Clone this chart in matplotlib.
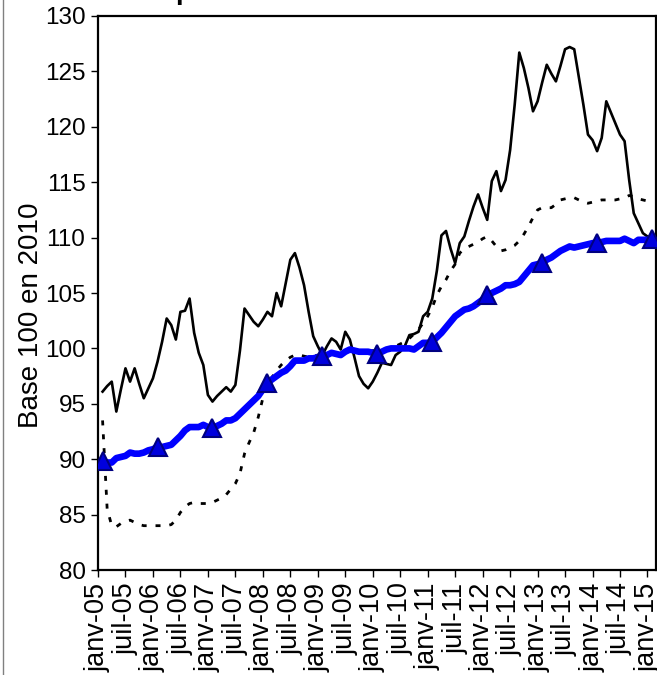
import matplotlib
matplotlib.use("Agg")
import matplotlib.pyplot as plt
from matplotlib.lines import Line2D
import numpy as np

plt.rcParams['font.family'] = ['Liberation Sans', 'DejaVu Sans']

# libellés de l'axe des abscisses (un tous les 6 mois)
tick_labels = []
for yy in range(5, 16):
    tick_labels.append("janv-%02d" % yy)
    if yy < 15:
        tick_labels.append("juil-%02d" % yy)

# série noire (trait plein), mensuelle de janv-05 à janv-15
serie_noire = [
    96.1, 96.6, 97.0, 94.3, 96.3, 98.2, 97.0, 98.2, 96.8, 95.5, 96.4, 97.3,
    98.8, 100.6, 102.7, 102.1, 100.8, 103.3, 103.4, 104.5, 101.4, 99.6, 98.5, 95.8,
    95.2, 95.7, 96.1, 96.5, 96.1, 96.7, 99.8, 103.6, 103.0, 102.4, 102.0, 102.6,
    103.3, 102.9, 105.0, 103.8, 105.9, 108.0, 108.6, 107.3, 105.7, 103.3, 101.1, 100.2,
    99.4, 100.2, 100.9, 100.6, 99.9, 101.5, 100.8, 99.2, 97.5, 96.8, 96.4, 97.0,
    97.8, 98.7, 98.6, 98.5, 99.4, 99.7, 100.2, 101.2, 101.3, 101.5, 102.9, 103.3,
    104.5, 107.0, 110.2, 110.6, 109.0, 107.7, 109.5, 110.1, 111.5, 112.8, 113.9, 112.7,
    111.6, 115.1, 116.0, 114.2, 115.2, 117.9, 122.0, 126.7, 125.3, 123.5, 121.4, 122.3,
    124.0, 125.6, 124.8, 124.1, 125.5, 127.0, 127.2, 127.0, 124.5, 122.0, 119.3, 118.8,
    117.8, 119.0, 122.3, 121.3, 120.3, 119.3, 118.7, 115.2, 112.2, 111.3, 110.4, 110.1,
    110.0,
]

# série pointillée
serie_pointillee = [
    93.5, 85.5, 84.0, 83.9, 84.2, 84.4, 84.5, 84.3, 84.1, 84.0, 84.0, 84.0,
    84.0, 84.0, 84.0, 84.1, 84.5, 85.2, 85.7, 86.0, 86.1, 86.0, 86.0, 86.0,
    86.1, 86.3, 86.5, 86.8, 87.3, 87.8, 88.7, 90.5, 91.5, 92.4, 93.8, 95.5,
    96.6, 97.4, 98.0, 98.5, 98.9, 99.2, 99.4, 99.4, 99.3, 99.2, 99.3, 99.4,
    99.4, 99.5, 99.5, 99.6, 99.6, 99.6, 99.7, 99.7, 99.7, 99.7, 99.7, 99.8,
    99.8, 99.9, 100.0, 100.1, 100.2, 100.4, 100.6, 100.9, 101.3, 101.7, 102.3, 102.9,
    103.7, 104.8, 105.6, 106.2, 107.0, 107.6, 108.6, 109.0, 109.2, 109.4, 109.6, 109.9,
    110.1, 109.7, 109.2, 108.8, 108.9, 109.1, 109.3, 109.7, 110.3, 111.0, 111.8, 112.5,
    112.7, 112.7, 112.7, 113.0, 113.4, 113.5, 113.6, 113.6, 113.4, 113.2, 113.1, 113.2,
    113.3, 113.4, 113.4, 113.4, 113.4, 113.5, 113.6, 113.8, 113.7, 113.5, 113.4, 113.3,
    113.2,
]

# série bleue (trait épais, triangles en janvier)
serie_bleue = [
    89.8, 89.7, 89.7, 90.1, 90.2, 90.3, 90.6, 90.5, 90.5, 90.6, 90.8, 90.9,
    91.1, 91.1, 91.2, 91.3, 91.7, 92.1, 92.6, 92.9, 92.9, 92.9, 93.1, 92.9,
    92.8, 93.0, 93.2, 93.5, 93.5, 93.7, 94.1, 94.5, 94.9, 95.3, 95.7, 96.3,
    96.9, 97.2, 97.5, 97.8, 98.0, 98.4, 98.9, 98.9, 98.9, 99.1, 99.1, 99.2,
    99.3, 99.4, 99.6, 99.5, 99.4, 99.7, 99.9, 99.8, 99.7, 99.7, 99.7, 99.6,
    99.5, 99.7, 99.9, 100.0, 100.0, 100.0, 100.0, 100.0, 99.9, 100.2, 100.5, 100.5,
    100.6, 101.0, 101.4, 101.9, 102.4, 102.9, 103.2, 103.5, 103.6, 103.8, 104.1, 104.4,
    104.8, 105.0, 105.2, 105.4, 105.7, 105.7, 105.8, 106.0, 106.5, 107.0, 107.5, 107.6,
    107.7, 108.0, 108.2, 108.5, 108.8, 109.0, 109.2, 109.1, 109.2, 109.3, 109.4, 109.5,
    109.5, 109.6, 109.7, 109.7, 109.7, 109.7, 109.9, 109.7, 109.5, 109.8, 109.8, 109.8,
    109.9,
]

mois = np.arange(1, len(serie_noire) + 1)

fig = plt.figure(figsize=(6.57, 6.75), dpi=100)
ax = fig.add_axes([98 / 657, 105 / 675, 557.5 / 657, 554 / 675])

ax.plot(mois, serie_noire, color='black', lw=1.9, zorder=3)
ax.plot(mois, serie_pointillee, color='black', lw=2, linestyle=(0, (1.8, 3.2)), zorder=2)
ax.plot(mois, serie_bleue, color='#0000FF', lw=4.8, zorder=4,
        marker='^', markevery=12, markersize=13,
        markerfacecolor='#0000DD', markeredgecolor='#000080', markeredgewidth=1.5)

ax.set_xlim(0, 121.75)
ax.set_ylim(80, 130)
ax.set_yticks(np.arange(80, 131, 5))
ax.set_xticks(np.arange(0, 121, 6))
ax.set_xticklabels(tick_labels, rotation=90)
ax.tick_params(axis='both', direction='out', length=5, width=1, color='black')
ax.tick_params(axis='y', labelsize=17.5, pad=4)
ax.tick_params(axis='x', labelsize=19.5, pad=4)

for s in ax.spines.values():
    s.set_linewidth(1.6)
    s.set_color('black')

ax.set_ylabel('Base 100 en 2010', fontsize=20)
ax.yaxis.set_label_coords(-0.097, 0.46)

# titre coupé en haut de l'image
fig.text(175 / 657, 1 + 1 / 675, 'p', fontsize=20, fontweight='bold', ha='left', va='baseline')

# bordure grise à gauche
fig.add_artist(Line2D([2.5 / 657, 2.5 / 657], [0, 1], color='#808080', lw=1, transform=fig.transFigure))

fig.savefig('out.png', dpi=100)
